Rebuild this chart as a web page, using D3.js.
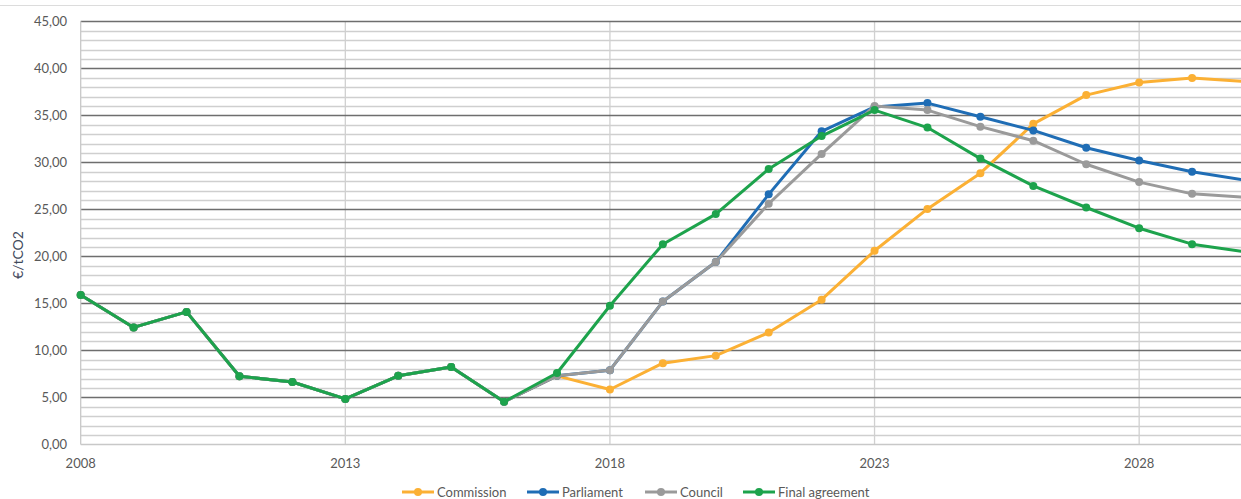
<!DOCTYPE html>
<html lang="en">
  <head>
    <meta charset="utf-8">
    <title>EUA price scenarios</title>
    <script src="https://d3js.org/d3.v7.js"></script>
    <style>
      body { margin: 0; background: white; }
      text { font-family: Lato, "Liberation Sans", Arial, sans-serif; }
    </style>
  </head>
  <body>
    <script>

      // data
      const years = d3.range(2008, 2031);
      const history = [15.9, 12.45, 14.1, 7.25, 6.65, 4.85, 7.3, 8.25, 4.55];   // 2008-2016

      const commission = history.concat([7.3, 5.85, 8.65, 9.45, 11.9, 15.4, 20.6, 25.05, 28.85, 34.1, 37.15, 38.5, 38.96, 38.6]);
      const parliament = history.concat([7.3, 7.9, 15.2, 19.4, 26.6, 33.3, 35.9, 36.3, 34.85, 33.4, 31.55, 30.2, 29.0, 28.1]);
      const council    = history.concat([7.3, 7.9, 15.2, 19.4, 25.6, 30.9, 36.0, 35.56, 33.8, 32.3, 29.8, 27.9, 26.65, 26.3]);
      const finalDeal  = history.concat([7.6, 14.75, 21.3, 24.5, 29.3, 32.8, 35.56, 33.7, 30.4, 27.5, 25.2, 23.0, 21.3, 20.5]);

      const seriesNames = ["Commission", "Parliament", "Council", "Final agreement"];
      const seriesValues = [commission, parliament, council, finalDeal];
      const seriesColors = ["#FBB034", "#1F6DB5", "#9A9A9A", "#1DA34C"];

      const yTicks = d3.range(0, 46, 5);
      const xTicks = [2008, 2013, 2018, 2023, 2028];

      const w = 1241;
      const h = 499;

      const xScale = d3.scaleLinear()
                       .domain([2008, 2030])
                       .range([80.7, 1245]);

      const yScale = d3.scaleLinear()
                       .domain([0, 45])
                       .range([444.5, 21.3]);

      const svg = d3.select("body")
                    .append("svg")
                    .attr("width", w)
                    .attr("height", h);

      svg.append("rect")
         .attr("width", w)
         .attr("height", h)
         .attr("fill", "white");

      // thin frame line at top
      svg.append("line")
         .attr("x1", 0).attr("x2", w)
         .attr("y1", 5.5).attr("y2", 5.5)
         .attr("stroke", "#dcdcdc")
         .attr("stroke-width", 1);

      // minor grid (every 1)
      svg.append("g")
         .selectAll("line")
         .data(d3.range(0, 46, 1).filter(d => d % 5 !== 0))
         .enter().append("line")
         .attr("x1", xScale(2008)).attr("x2", w)
         .attr("y1", d => Math.round(yScale(d)) + 0.5)
         .attr("y2", d => Math.round(yScale(d)) + 0.5)
         .attr("stroke", "#cfcfcf")
         .attr("stroke-width", 1.3);

      // vertical grid
      svg.append("g")
         .selectAll("line")
         .data(xTicks.slice(1))
         .enter().append("line")
         .attr("x1", d => xScale(d)).attr("x2", d => xScale(d))
         .attr("y1", yScale(45)).attr("y2", yScale(0))
         .attr("stroke", "#d0d0d0")
         .attr("stroke-width", 1.3);

      // major grid (every 5)
      svg.append("g")
         .selectAll("line")
         .data(yTicks.filter(d => d > 0))
         .enter().append("line")
         .attr("x1", xScale(2008)).attr("x2", w)
         .attr("y1", d => Math.round(yScale(d)) + 0.5)
         .attr("y2", d => Math.round(yScale(d)) + 0.5)
         .attr("stroke", "#6e6e6e")
         .attr("stroke-width", 1.3);

      // axes lines
      svg.append("line")
         .attr("x1", xScale(2008)).attr("x2", w)
         .attr("y1", yScale(0)).attr("y2", yScale(0))
         .attr("stroke", "#c8c8c8")
         .attr("stroke-width", 1.3);
      svg.append("line")
         .attr("x1", xScale(2008)).attr("x2", xScale(2008))
         .attr("y1", yScale(45)).attr("y2", yScale(0))
         .attr("stroke", "#c8c8c8")
         .attr("stroke-width", 1.3);

      // tick labels
      const fmt = d => d.toFixed(2).replace(".", ",");
      svg.append("g")
         .selectAll("text")
         .data(yTicks)
         .enter().append("text")
         .attr("x", 67)
         .attr("y", d => yScale(d) + 4.5)
         .attr("text-anchor", "end")
         .attr("font-size", 13)
         .attr("fill", "#595959")
         .text(fmt);

      svg.append("g")
         .selectAll("text")
         .data(xTicks)
         .enter().append("text")
         .attr("x", d => xScale(d))
         .attr("y", 468)
         .attr("text-anchor", "middle")
         .attr("font-size", 13)
         .attr("fill", "#595959")
         .text(d => d);

      svg.append("text")
         .attr("transform", "translate(23, 255) rotate(-90)")
         .attr("text-anchor", "middle")
         .attr("font-size", 14)
         .attr("fill", "#3f4a5c")
         .text("€/tCO2");

      // lines and markers
      const line = d3.line()
                     .x((d, i) => xScale(years[i]))
                     .y(d => yScale(d));

      const plot = svg.append("g");

      seriesValues.forEach((vals, k) => {
        const g = plot.append("g");
        g.append("path")
         .datum(vals)
         .attr("d", line)
         .attr("fill", "none")
         .attr("stroke", seriesColors[k])
         .attr("stroke-width", 3)
         .attr("stroke-linejoin", "round");
        g.selectAll("circle")
         .data(vals)
         .enter().append("circle")
         .attr("cx", (d, i) => xScale(years[i]))
         .attr("cy", d => yScale(d))
         .attr("r", 4)
         .attr("fill", seriesColors[k]);
      });

      // legend
      const legendX = [402, 527, 645, 743];
      const legend = svg.append("g");
      seriesNames.forEach((name, k) => {
        const lg = legend.append("g").attr("transform", `translate(${legendX[k]}, 492)`);
        lg.append("line")
          .attr("x1", 0).attr("x2", 32)
          .attr("stroke", seriesColors[k])
          .attr("stroke-width", 3);
        lg.append("circle")
          .attr("cx", 16)
          .attr("r", 4)
          .attr("fill", seriesColors[k]);
        lg.append("text")
          .attr("x", 35)
          .attr("y", 4.5)
          .attr("font-size", 13)
          .attr("fill", "#595959")
          .text(name);
      });

    </script>
  </body>
</html>
